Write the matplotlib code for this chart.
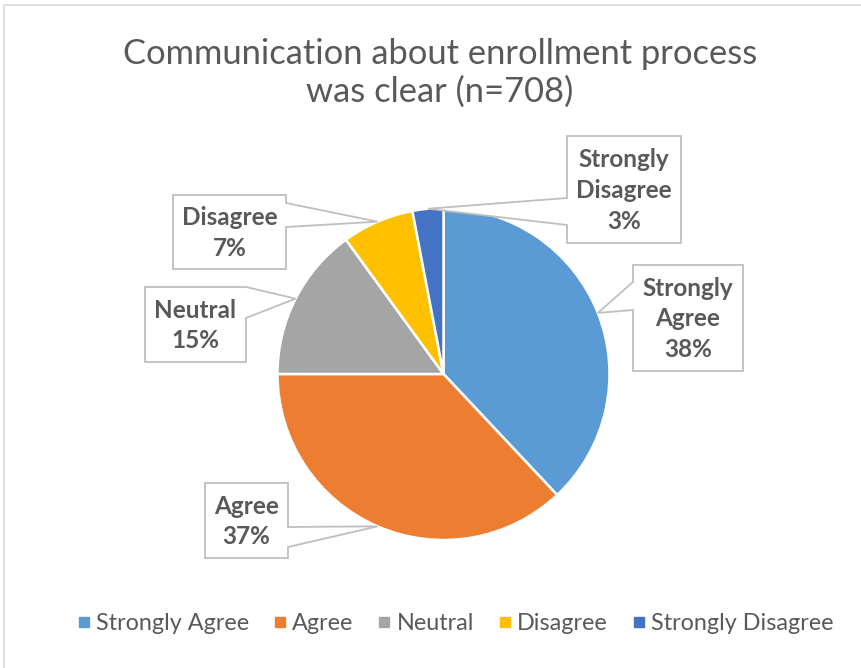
import matplotlib
matplotlib.use("Agg")
import matplotlib.pyplot as plt
from matplotlib.patches import Polygon, Rectangle
from matplotlib.lines import Line2D
import numpy as np

plt.rcParams["font.family"] = ["Lato", "DejaVu Sans"]

# survey responses, share of n=708
categories = ["Strongly Agree", "Agree", "Neutral", "Disagree", "Strongly Disagree"]
shares = [38, 37, 15, 7, 3]
colors = ["#5B9BD5", "#ED7D31", "#A5A5A5", "#FFC000", "#4472C4"]
title = "Communication about enrollment process\nwas clear (n=708)"

TEXT = "#595959"
BOX_EDGE = "#BFBFBF"

W, H = 862, 668
CX, CY, R = 443.5, 374, 166  # pie centre / radius in pixels


def to_data(px, py):
    return (px - CX) / R, (CY - py) / R


# label box (x0, y0, x1, y1), pointer side and pointer base (ya, yb), all in pixels
CALLOUTS = {
    "Strongly Agree": ((633, 265, 743, 371), "left", (282, 310)),
    "Agree": ((205, 483, 288, 558), "right", (527, 547)),
    "Neutral": ((145, 287, 246, 362), "right", (287, 318)),
    "Disagree": ((173, 195, 286, 269), "right", (203, 227)),
    "Strongly Disagree": ((567, 136, 681, 243), "left", (198, 225)),
}

fig = plt.figure(figsize=(W / 100, H / 100), dpi=100)
fig.patch.set_facecolor("white")
ax = fig.add_axes([0, 0, 1, 1])

wedges, _ = ax.pie(
    shares,
    colors=colors,
    startangle=90,
    counterclock=False,
    radius=1,
    wedgeprops=dict(edgecolor="white", linewidth=1.8),
)

ax.set_xlim(-CX / R, (W - CX) / R)
ax.set_ylim((CY - H) / R, CY / R)
ax.set_aspect("equal", adjustable="box")
ax.axis("off")

# callout boxes pointing at the middle of each slice
for w, name, val in zip(wedges, categories, shares):
    (x0, y0, x1, y1), side, (ya, yb) = CALLOUTS[name]
    mid = np.deg2rad((w.theta1 + w.theta2) / 2)
    tip = (np.cos(mid), np.sin(mid))
    if side == "right":
        pts = [(x0, y0), (x1, y0), (x1, ya)]
        pts_after = [(x1, yb), (x1, y1), (x0, y1)]
    else:
        pts = [(x1, y1), (x0, y1), (x0, yb)]
        pts_after = [(x0, ya), (x0, y0), (x1, y0)]
    verts = [to_data(*p) for p in pts] + [tip] + [to_data(*p) for p in pts_after]
    ax.add_patch(Polygon(verts, closed=True, facecolor="white", edgecolor=BOX_EDGE,
                         linewidth=1.3, zorder=4))
    label = name.replace(" ", "\n") + f"\n{val}%"
    tx, ty = to_data((x0 + x1) / 2, (y0 + y1) / 2 + 1)
    ax.text(tx, ty, label, ha="center", va="center", fontsize=17.5,
            fontweight="bold", color=TEXT, linespacing=1.42, zorder=5)

# chart area frame
fig.patches.append(Rectangle((4.5 / W, -0.1), 1.2, 1.1 - 5.5 / H,
                             transform=fig.transFigure, fill=False,
                             edgecolor="#D9D9D9", linewidth=1.2))

fig.text(440 / W, 1 - 73 / H, title, ha="center", va="center", fontsize=24.8,
         color=TEXT, linespacing=1.22)

handles = [Line2D([], [], marker="s", linestyle="none", markersize=7.5,
                  markerfacecolor=c, markeredgecolor=c) for c in colors]
fig.legend(handles, categories, loc="center", bbox_to_anchor=(456 / W, 1 - 624 / H),
           ncol=5, frameon=False, fontsize=16.8, labelcolor=TEXT,
           handlelength=0.45, handletextpad=0.3, columnspacing=1.1)

fig.savefig("out.png", dpi=100, facecolor="white")
